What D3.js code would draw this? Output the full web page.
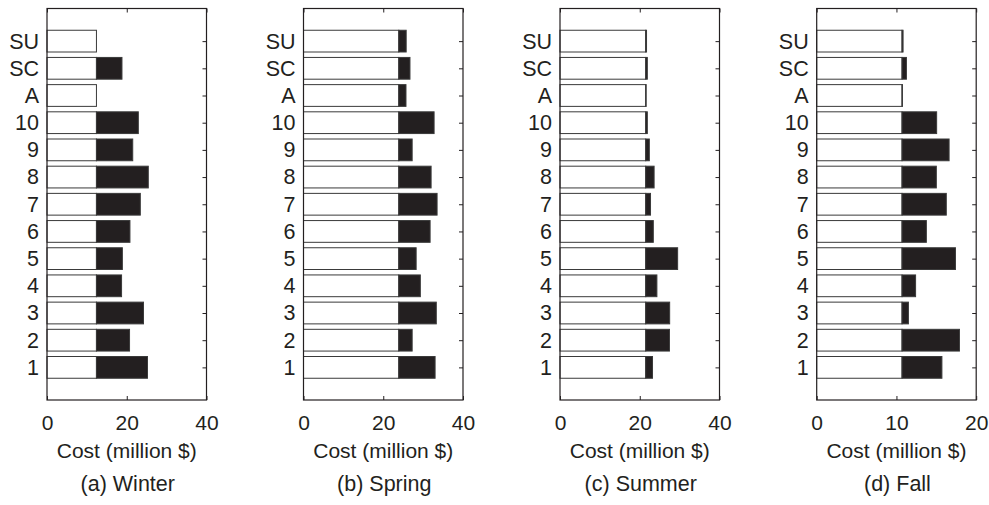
<!DOCTYPE html>
<html>
<head>
<meta charset="utf-8">
<script src="https://cdn.jsdelivr.net/npm/d3@7"></script>
<style>
  body { margin: 0; background: #fff; }
  svg text { font-family: "Liberation Sans", Arial, sans-serif; fill: #231f20; }
</style>
</head>
<body>
<div id="chart"></div>
<script>
// categories from bottom to top
const categories = ['1', '2', '3', '4', '5', '6', '7', '8', '9', '10', 'A', 'SC', 'SU'];
const panelTitles = ['(a) Winter', '(b) Spring', '(c) Summer', '(d) Fall'];
const xMax = [40, 40, 40, 20];
const xTicks = [[0, 20, 40], [0, 20, 40], [0, 20, 40], [0, 10, 20]];

// base cost (white part) and total cost (end of black part), million $
const winterBase   = [12.4, 12.4, 12.4, 12.4, 12.4, 12.4, 12.4, 12.4, 12.4, 12.4, 12.4, 12.4, 12.4];
const winterTotal  = [25.2, 20.7, 24.2, 18.7, 18.9, 20.8, 23.4, 25.4, 21.5, 22.9, 12.4, 18.8, 12.4];
const springBase   = [23.9, 23.9, 23.9, 23.9, 23.9, 23.9, 23.9, 23.9, 23.9, 23.9, 23.9, 23.9, 23.9];
const springTotal  = [33.0, 27.25, 33.3, 29.3, 28.25, 31.75, 33.5, 32.0, 27.25, 32.75, 25.7, 26.7, 25.75];
const summerBase   = [21.5, 21.5, 21.5, 21.5, 21.5, 21.5, 21.5, 21.5, 21.5, 21.5, 21.5, 21.5, 21.5];
const summerTotal  = [23.2, 27.45, 27.5, 24.3, 29.5, 23.4, 22.7, 23.6, 22.4, 21.9, 21.6, 21.9, 21.7];
const fallBase     = [10.7, 10.7, 10.7, 10.7, 10.7, 10.7, 10.7, 10.7, 10.7, 10.7, 10.7, 10.7, 10.7];
const fallTotal    = [15.7, 17.9, 11.5, 12.4, 17.4, 13.75, 16.25, 15.0, 16.6, 15.04, 10.75, 11.25, 10.83];

const bases = [winterBase, springBase, summerBase, fallBase];
const totals = [winterTotal, springTotal, summerTotal, fallTotal];

const width = 989, height = 505;
const panelLeft = [47, 303.5, 560, 816.7];
const plotW = 159.5;
const plotTop = 8.5, plotBottom = 400;
const fontSize = '21px';

const svg = d3.select('#chart').append('svg')
    .attr('width', width)
    .attr('height', height);

// y: category index positions 1..13
const yScale = d3.scaleLinear()
    .domain([-0.2, 14.2])
    .range([plotBottom, plotTop]);
const step = yScale(0) - yScale(1);
const barH = step * 0.8;

panelTitles.forEach((title, p) => {
    const xScale = d3.scaleLinear()
        .domain([0, xMax[p]])
        .range([0, plotW]);

    const g = svg.append('g')
        .attr('transform', `translate(${panelLeft[p]},0)`);

    const rows = categories.map((c, i) => ({ cat: c, pos: i + 1, base: bases[p][i], total: totals[p][i] }));

    // white base bars
    g.selectAll('rect.base')
        .data(rows)
        .join('rect')
        .classed('base', true)
        .attr('x', xScale(0))
        .attr('y', d => yScale(d.pos) - barH / 2)
        .attr('width', d => xScale(d.base))
        .attr('height', barH)
        .attr('fill', '#fff')
        .attr('stroke', '#3a3a3a')
        .attr('stroke-width', 1);

    // black extra bars
    g.selectAll('rect.extra')
        .data(rows.filter(d => d.total > d.base))
        .join('rect')
        .classed('extra', true)
        .attr('x', d => xScale(d.base))
        .attr('y', d => yScale(d.pos) - barH / 2)
        .attr('width', d => xScale(d.total) - xScale(d.base))
        .attr('height', barH)
        .attr('fill', '#231f20')
        .attr('stroke', '#3a3a3a')
        .attr('stroke-width', 1);

    // frame
    g.append('rect')
        .attr('x', 0)
        .attr('y', plotTop)
        .attr('width', plotW)
        .attr('height', plotBottom - plotTop)
        .attr('fill', 'none')
        .attr('stroke', '#231f20')
        .attr('stroke-width', 1.2);

    // bottom axis: inward ticks + labels
    const xAxis = g.append('g')
        .attr('transform', `translate(0,${plotBottom})`)
        .call(d3.axisBottom(xScale).tickValues(xTicks[p]).tickSizeInner(-4).tickSizeOuter(0));
    xAxis.select('.domain').remove();
    xAxis.selectAll('line').attr('stroke', '#231f20');
    xAxis.selectAll('text')
        .attr('y', 30).attr('dy', 0)
        .style('font-size', fontSize)
        .style('font-family', '"Liberation Sans", Arial, sans-serif');

    // top axis: inward ticks only
    const topAxis = g.append('g')
        .attr('transform', `translate(0,${plotTop})`)
        .call(d3.axisTop(xScale).tickValues(xTicks[p]).tickSizeInner(-4).tickSizeOuter(0).tickFormat(''));
    topAxis.select('.domain').remove();
    topAxis.selectAll('line').attr('stroke', '#231f20');

    // left axis: category labels
    const yAxis = g.append('g')
        .call(d3.axisLeft(yScale).tickValues(rows.map(d => d.pos))
            .tickFormat(v => categories[v - 1]).tickSize(0).tickPadding(8));
    yAxis.select('.domain').remove();
    yAxis.selectAll('text')
        .style('font-size', '21.5px')
        .style('font-family', '"Liberation Sans", Arial, sans-serif');

    // right axis: inward ticks
    const rAxis = g.append('g')
        .attr('transform', `translate(${plotW},0)`)
        .call(d3.axisLeft(yScale).tickValues(rows.map(d => d.pos)).tickSize(4).tickFormat(''));
    rAxis.select('.domain').remove();
    rAxis.selectAll('line').attr('stroke', '#231f20');

    // x label
    g.append('text')
        .attr('x', plotW / 2)
        .attr('y', 458)
        .attr('text-anchor', 'middle')
        .style('font-size', fontSize)
        .text('Cost (million $)');

    // panel title
    g.append('text')
        .attr('x', plotW / 2 + 1)
        .attr('y', 491)
        .attr('text-anchor', 'middle')
        .style('font-size', '21.5px')
        .text(title);
});
</script>
</body>
</html>
